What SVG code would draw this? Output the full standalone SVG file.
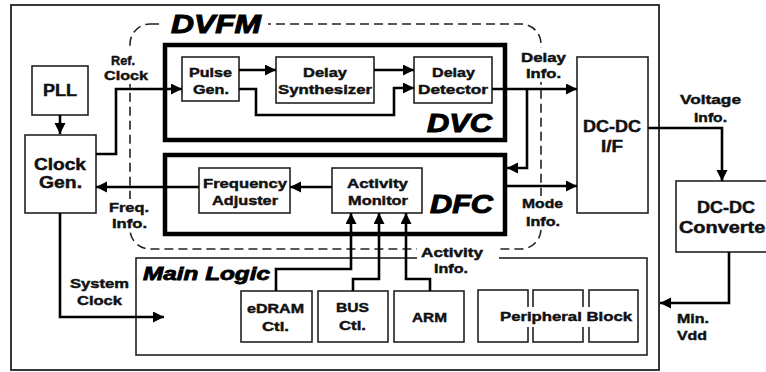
<svg xmlns="http://www.w3.org/2000/svg" width="766" height="372" viewBox="0 0 766 372">
  <style>
    .box { fill: #fff; stroke: #222; stroke-width: 1.6; }
    .thick { fill: none; stroke: #000; stroke-width: 4.5; }
    .dash { fill: none; stroke: #222; stroke-width: 1.6; stroke-dasharray: 9 5; }
    .bg { fill: #fff; stroke: none; }
    .wire { fill: none; stroke: #000; stroke-width: 2.6; marker-end: url(#arrow); }
    text { font-family: "Liberation Sans", Arial, sans-serif; font-weight: bold; fill: #111; stroke: #111; stroke-width: 0.45; }
    .s { font-size: 13.5px; text-anchor: middle; }
    .m { font-size: 16px; text-anchor: middle; }
    .big { font-size: 25px; font-style: italic; stroke-width: 1; fill: #000; stroke: #000; }
    .ml { font-size: 18px; font-style: italic; stroke-width: 0.8; fill: #000; stroke: #000; }
  </style>
  <defs>
    <marker id="arrow" markerUnits="userSpaceOnUse" markerWidth="12" markerHeight="12" refX="11" refY="5.5" orient="auto">
      <path d="M0,0 L11,5.5 L0,11 z" fill="#000"/>
    </marker>
  </defs>

  <rect width="766" height="372" fill="#fff"/>

  <!-- chip outline -->
  <rect id="chip" x="11" y="5" width="648" height="365" fill="none" stroke="#222" stroke-width="1.8"/>

  <!-- DVFM dashed region -->
  <g id="dvfm">
    <rect class="dash" x="130" y="24" width="411" height="225" rx="20"/>
    <rect class="bg" x="164" y="10" width="104" height="28"/>
    <text class="big" x="171" y="33" textLength="90" lengthAdjust="spacingAndGlyphs">DVFM</text>
  </g>

  <!-- main logic -->
  <g id="main-logic">
    <rect class="box" x="136" y="258" width="511" height="97"/>
    <text class="ml" x="143" y="280" textLength="127" lengthAdjust="spacingAndGlyphs">Main Logic</text>
  </g>

  <g id="pll">
    <rect class="box" x="32" y="66" width="56" height="49"/>
    <text class="m" x="60" y="96" textLength="34" lengthAdjust="spacingAndGlyphs">PLL</text>
  </g>

  <g id="clock-gen">
    <rect class="box" x="25" y="135" width="71" height="78"/>
    <text class="m" x="60" y="170" textLength="52" lengthAdjust="spacingAndGlyphs">Clock</text>
    <text class="m" x="60.5" y="188" textLength="43" lengthAdjust="spacingAndGlyphs">Gen.</text>
  </g>

  <g id="dvc">
    <rect class="thick" x="165" y="45" width="340" height="95"/>
    <text class="big" x="427" y="132" textLength="65" lengthAdjust="spacingAndGlyphs">DVC</text>
  </g>

  <g id="pulse-gen">
    <rect class="box" x="182" y="57" width="57" height="44"/>
    <text class="s" x="210.5" y="77" textLength="43" lengthAdjust="spacingAndGlyphs">Pulse</text>
    <text class="s" x="211" y="94" textLength="36" lengthAdjust="spacingAndGlyphs">Gen.</text>
  </g>

  <g id="delay-synthesizer">
    <rect class="box" x="276" y="57" width="98" height="46"/>
    <text class="s" x="325" y="77" textLength="44" lengthAdjust="spacingAndGlyphs">Delay</text>
    <text class="s" x="325" y="94" textLength="94" lengthAdjust="spacingAndGlyphs">Synthesizer</text>
  </g>

  <g id="delay-detector">
    <rect class="box" x="414" y="57" width="78" height="46"/>
    <text class="s" x="453.5" y="77" textLength="43" lengthAdjust="spacingAndGlyphs">Delay</text>
    <text class="s" x="453" y="94" textLength="70" lengthAdjust="spacingAndGlyphs">Detector</text>
  </g>

  <g id="dfc">
    <rect class="thick" x="165" y="155" width="340" height="79"/>
    <text class="big" x="430" y="213" textLength="63" lengthAdjust="spacingAndGlyphs">DFC</text>
  </g>

  <g id="frequency-adjuster">
    <rect class="box" x="199" y="168" width="91" height="45"/>
    <text class="s" x="245" y="188" textLength="84" lengthAdjust="spacingAndGlyphs">Frequency</text>
    <text class="s" x="245" y="205" textLength="66" lengthAdjust="spacingAndGlyphs">Adjuster</text>
  </g>

  <g id="activity-monitor">
    <rect class="box" x="332" y="168" width="90" height="45"/>
    <text class="s" x="377.5" y="188" textLength="61" lengthAdjust="spacingAndGlyphs">Activity</text>
    <text class="s" x="378" y="205" textLength="60" lengthAdjust="spacingAndGlyphs">Monitor</text>
  </g>

  <g id="dcdc-if">
    <rect class="box" x="577" y="57" width="71" height="156"/>
    <text class="m" x="612" y="132" textLength="58" lengthAdjust="spacingAndGlyphs">DC-DC</text>
    <text class="m" x="612" y="152" textLength="22" lengthAdjust="spacingAndGlyphs">I/F</text>
  </g>

  <g id="dcdc-converter">
    <rect class="box" x="676" y="181" width="110" height="71"/>
    <text class="m" x="726" y="213" textLength="58" lengthAdjust="spacingAndGlyphs">DC-DC</text>
    <text class="m" x="726" y="233" textLength="94" lengthAdjust="spacingAndGlyphs">Converter</text>
  </g>

  <g id="edram-ctl">
    <rect class="box" x="241" y="291" width="71" height="51"/>
    <text class="s" x="275.5" y="313" textLength="57" lengthAdjust="spacingAndGlyphs">eDRAM</text>
    <text class="s" x="275.5" y="331" textLength="27" lengthAdjust="spacingAndGlyphs">Ctl.</text>
  </g>

  <g id="bus-ctl">
    <rect class="box" x="318" y="291" width="70" height="51"/>
    <text class="s" x="352.5" y="312" textLength="33" lengthAdjust="spacingAndGlyphs">BUS</text>
    <text class="s" x="352.5" y="330" textLength="27" lengthAdjust="spacingAndGlyphs">Ctl.</text>
  </g>

  <g id="arm">
    <rect class="box" x="394" y="291" width="70" height="51"/>
    <text class="s" x="429.5" y="322" textLength="35" lengthAdjust="spacingAndGlyphs">ARM</text>
  </g>

  <g id="peripheral-block">
    <rect class="box" x="478" y="290" width="50" height="52"/>
    <rect class="box" x="533" y="290" width="50" height="52"/>
    <rect class="box" x="589" y="290" width="49" height="52"/>
    <rect class="bg" x="498" y="307" width="136" height="20"/>
    <text class="s" x="566" y="321" textLength="132" lengthAdjust="spacingAndGlyphs">Peripheral Block</text>
  </g>

  <!-- signal labels -->
  <g id="labels">
    <rect class="bg" x="102" y="50" width="48" height="34"/>
    <text class="s" x="123" y="65" textLength="24" lengthAdjust="spacingAndGlyphs">Ref.</text>
    <text class="s" x="126" y="80" textLength="44" lengthAdjust="spacingAndGlyphs">Clock</text>

    <rect class="bg" x="106" y="199" width="46" height="33"/>
    <text class="s" x="129" y="212" textLength="40" lengthAdjust="spacingAndGlyphs">Freq.</text>
    <text class="s" x="129.5" y="228" textLength="35" lengthAdjust="spacingAndGlyphs">Info.</text>

    <rect class="bg" x="518" y="48" width="51" height="34"/>
    <text class="s" x="543.5" y="62" textLength="45" lengthAdjust="spacingAndGlyphs">Delay</text>
    <text class="s" x="543.5" y="78" textLength="35" lengthAdjust="spacingAndGlyphs">Info.</text>

    <rect class="bg" x="519" y="196" width="47" height="34"/>
    <text class="s" x="542.5" y="208" textLength="41" lengthAdjust="spacingAndGlyphs">Mode</text>
    <text class="s" x="543" y="226" textLength="34" lengthAdjust="spacingAndGlyphs">Info.</text>

    <rect class="bg" x="417" y="243" width="82" height="34"/>
    <text class="s" x="452" y="257" textLength="62" lengthAdjust="spacingAndGlyphs">Activity</text>
    <text class="s" x="451" y="273" textLength="34" lengthAdjust="spacingAndGlyphs">Info.</text>

    <text class="s" x="710.5" y="104" textLength="61" lengthAdjust="spacingAndGlyphs">Voltage</text>
    <text class="s" x="710.5" y="122" textLength="33" lengthAdjust="spacingAndGlyphs">Info.</text>

    <text class="s" x="99.5" y="288" textLength="59" lengthAdjust="spacingAndGlyphs">System</text>
    <text class="s" x="99.5" y="305" textLength="45" lengthAdjust="spacingAndGlyphs">Clock</text>

    <text class="s" x="693" y="323" textLength="32" lengthAdjust="spacingAndGlyphs">Min.</text>
    <text class="s" x="692" y="340" textLength="30" lengthAdjust="spacingAndGlyphs">Vdd</text>
  </g>

  <!-- connectors -->
  <g id="connectors">
    <path class="wire" d="M60 115 V134"/>
    <path class="wire" d="M96 154 H116 V89 H182"/>
    <path class="wire" d="M239 70 H276"/>
    <path class="wire" d="M239 89 H256 V115 H394 V88 H414"/>
    <path class="wire" d="M374 70 H414"/>
    <path class="wire" d="M492 89 H577"/>
    <path class="wire" d="M527 89 V168 H507"/>
    <path class="wire" d="M507 186 H577"/>
    <path class="wire" d="M332 187 H290"/>
    <path class="wire" d="M199 187 H96"/>
    <path class="wire" d="M60 213 V317 H164"/>
    <path class="wire" d="M276 291 V269 H351 V213"/>
    <path class="wire" d="M353 291 V279 H379 V213"/>
    <path class="wire" d="M430 291 V279 H406 V213"/>
    <path class="wire" d="M648 128 H722 V181"/>
    <path class="wire" d="M729 252 V303 H660"/>
  </g>
</svg>
